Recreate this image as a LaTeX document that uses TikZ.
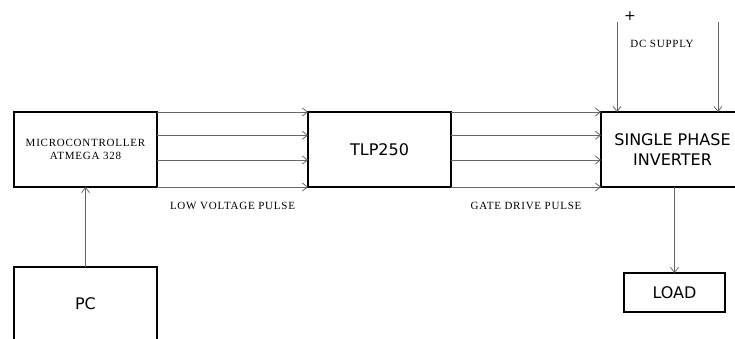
\documentclass[tikz,border=0pt]{standalone}
\usepackage{fontspec}
\newfontfamily\boxfont{DejaVu Sans}
\newfontfamily\lblfont[LetterSpace=7]{Liberation Serif}
\usetikzlibrary{arrows.meta,positioning,calc}

\begin{document}
\begin{tikzpicture}[
  x=1pt, y=-1pt,
  block/.style={draw, line width=2pt, outer sep=0pt, align=center, minimum width=143pt, minimum height=75pt, font=\boxfont\fontsize{16}{20}\selectfont},
  sig/.style={-{Straight Barb[length=5pt,width=8pt]}, draw=black!60, line width=0.8pt},
  note/.style={align=center, font=\lblfont\fontsize{11}{13}\selectfont}
]
\clip (0,0) rectangle (735,338);

\node[block, font=\lblfont\fontsize{11}{13}\selectfont] (mcu) at (85.5,149.5) {MICROCONTROLLER\\ATMEGA 328};
\node[block, right=151pt of mcu] (tlp) {TLP250};
\node[block, right=150pt of tlp] (inv) {SINGLE PHASE\\INVERTER};
\node[block, minimum height=73pt, below=80pt of mcu] (pc) {PC};
\node[block, minimum width=101pt, minimum height=39pt] (load) at (674.5,292.5) {LOAD};

% pulse lines
\foreach \f in {0,0.31,0.64,1} {
  \draw[sig] ($(mcu.north east)!\f!(mcu.south east)$) -- ($(tlp.north west)!\f!(tlp.south west)$);
  \draw[sig] ($(tlp.north east)!\f!(tlp.south east)$) -- ($(inv.north west)!\f!(inv.south west)$);
}
\node[note, below=12pt of $(mcu.south east)!0.5!(tlp.south west)$] (lvp) {LOW VOLTAGE PULSE};
\node[note, below=12pt of $(tlp.south east)!0.5!(inv.south west)$] (gdp) {GATE DRIVE PULSE};

% dc supply
\coordinate (dcp) at (617,22);
\coordinate (dcn) at (718,22);
\draw[sig] (dcp) -- (dcp |- inv.north);
\draw[sig] (dcn) -- (dcn |- inv.north);
\node[font=\boxfont\fontsize{14}{16}\selectfont] (plus1) at (630,16) {+};
\node[font=\boxfont\fontsize{14}{16}\selectfont] (plus2) at (740,16) {+};
\node[note] (dc) at (662,44) {DC SUPPLY};

\draw[sig] (pc) -- (mcu);
\draw[sig] (load.north |- inv.south) -- (load.north);
\end{tikzpicture}
\end{document}
